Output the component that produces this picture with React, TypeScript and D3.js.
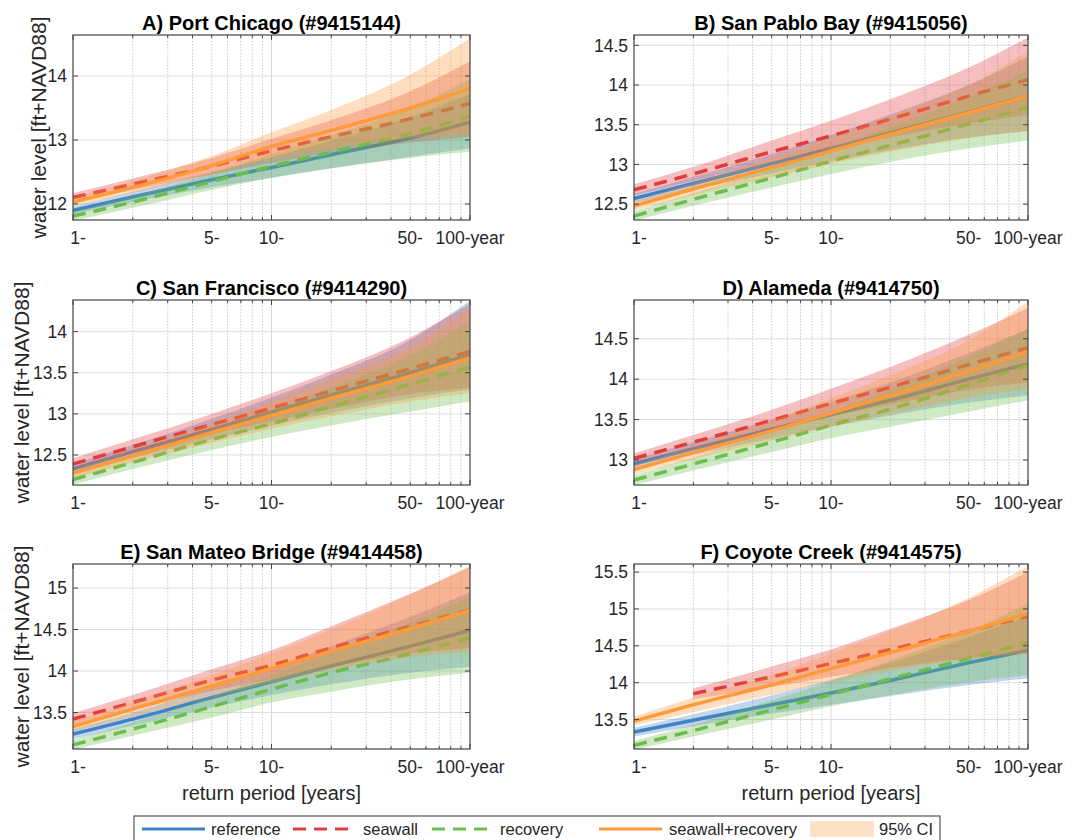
import React from "react";
import * as d3 from "d3";

// return periods (years) at which every curve is read
const periods = [1, 2, 5, 10, 20, 50, 100];

const titles = [
  "A) Port Chicago (#9415144)",
  "B) San Pablo Bay (#9415056)",
  "C) San Francisco (#9414290)",
  "D) Alameda (#9414750)",
  "E) San Mateo Bridge (#9414458)",
  "F) Coyote Creek (#9414575)",
];

const yDomains = [
  [11.75, 14.64],
  [12.3, 14.63],
  [12.135, 14.385],
  [12.69, 14.98],
  [13.06, 15.29],
  [13.1, 15.61],
];

const yTickValues = [
  [12, 13, 14],
  [12.5, 13, 13.5, 14, 14.5],
  [12.5, 13, 13.5, 14],
  [13, 13.5, 14, 14.5],
  [13.5, 14, 14.5, 15],
  [13.5, 14, 14.5, 15, 15.5],
];

const xTickValues = [1, 5, 10, 50, 100];
const xTickLabels = ["1-", "5-", "10-", "50-", "100-year"];

// reference
const referenceMid = [
  [11.9, 12.11, 12.38, 12.57, 12.77, 13.03, 13.28],
  [12.57, 12.76, 13.01, 13.2, 13.4, 13.66, 13.86],
  [12.33, 12.54, 12.81, 13.02, 13.23, 13.5, 13.72],
  [12.95, 13.14, 13.38, 13.56, 13.74, 14.0, 14.19],
  [13.24, 13.42, 13.68, 13.87, 14.06, 14.3, 14.49],
  [13.33, 13.49, 13.7, 13.86, 14.03, 14.27, 14.44],
];
const referenceLo = [
  [11.84, 12.03, 12.26, 12.41, 12.56, 12.74, 12.87],
  [12.51, 12.68, 12.89, 13.04, 13.18, 13.34, 13.42],
  [12.27, 12.46, 12.69, 12.86, 13.01, 13.19, 13.3],
  [12.89, 13.06, 13.27, 13.41, 13.55, 13.71, 13.8],
  [13.18, 13.34, 13.56, 13.71, 13.84, 13.98, 14.05],
  [13.27, 13.41, 13.58, 13.7, 13.82, 13.97, 14.06],
];
const referenceHi = [
  [11.96, 12.19, 12.5, 12.73, 12.99, 13.36, 13.72],
  [12.63, 12.84, 13.13, 13.37, 13.63, 14.0, 14.36],
  [12.39, 12.62, 12.94, 13.2, 13.48, 13.9, 14.38],
  [13.01, 13.22, 13.5, 13.72, 13.96, 14.32, 14.62],
  [13.3, 13.5, 13.8, 14.04, 14.3, 14.65, 14.95],
  [13.39, 13.57, 13.83, 14.04, 14.27, 14.62, 14.9],
];

// seawall
const seawallMid = [
  [12.1, 12.31, 12.59, 12.83, 13.05, 13.33, 13.57],
  [12.68, 12.88, 13.16, 13.36, 13.57, 13.86, 14.07],
  [12.39, 12.6, 12.87, 13.07, 13.28, 13.55, 13.76],
  [13.02, 13.22, 13.49, 13.7, 13.9, 14.18, 14.39],
  [13.42, 13.62, 13.89, 14.07, 14.28, 14.54, 14.74],
  [null, 13.85, 14.08, 14.26, 14.45, 14.7, 14.9],
];
const seawallLo = [
  [12.03, 12.22, 12.46, 12.64, 12.8, 12.96, 13.05],
  [12.61, 12.79, 13.03, 13.19, 13.34, 13.52, 13.62],
  [12.33, 12.52, 12.75, 12.91, 13.06, 13.24, 13.32],
  [12.96, 13.14, 13.37, 13.54, 13.69, 13.87, 13.96],
  [13.35, 13.53, 13.76, 13.9, 14.05, 14.21, 14.28],
  [null, 13.78, 13.94, 14.08, 14.2, 14.33, 14.4],
];
const seawallHi = [
  [12.17, 12.4, 12.72, 13.02, 13.31, 13.76, 14.23],
  [12.75, 12.97, 13.3, 13.55, 13.82, 14.22, 14.6],
  [12.46, 12.69, 13.0, 13.25, 13.52, 13.93, 14.34],
  [13.08, 13.31, 13.62, 13.88, 14.15, 14.55, 14.88],
  [13.49, 13.71, 14.02, 14.25, 14.54, 14.93, 15.25],
  [null, 13.92, 14.22, 14.45, 14.73, 15.12, 15.5],
];

// recovery
const recoveryMid = [
  [11.81, 12.03, 12.35, 12.59, 12.81, 13.1, 13.37],
  [12.35, 12.56, 12.83, 13.04, 13.24, 13.51, 13.72],
  [12.2, 12.41, 12.69, 12.88, 13.09, 13.36, 13.57],
  [12.75, 12.95, 13.22, 13.43, 13.63, 13.93, 14.17],
  [13.11, 13.3, 13.57, 13.78, 13.98, 14.21, 14.4],
  [13.15, 13.35, 13.63, 13.84, 14.05, 14.33, 14.54],
];
const recoveryLo = [
  [11.74, 11.94, 12.22, 12.41, 12.56, 12.72, 12.82],
  [12.29, 12.48, 12.71, 12.88, 13.03, 13.2, 13.3],
  [12.14, 12.33, 12.56, 12.72, 12.86, 13.03, 13.15],
  [12.69, 12.87, 13.1, 13.27, 13.41, 13.6, 13.74],
  [13.05, 13.22, 13.44, 13.62, 13.75, 13.9, 13.98],
  [13.09, 13.27, 13.5, 13.68, 13.83, 14.01, 14.1],
];
const recoveryHi = [
  [11.88, 12.12, 12.48, 12.78, 13.07, 13.5, 13.95],
  [12.41, 12.64, 12.95, 13.21, 13.47, 13.85, 14.18],
  [12.26, 12.49, 12.81, 13.05, 13.32, 13.72, 14.12],
  [12.81, 13.03, 13.35, 13.6, 13.87, 14.28, 14.62],
  [13.17, 13.38, 13.69, 13.95, 14.22, 14.58, 14.9],
  [13.21, 13.43, 13.76, 14.02, 14.3, 14.7, 15.08],
];

// seawall+recovery
const combinedMid = [
  [12.03, 12.26, 12.6, 12.9, 13.15, 13.5, 13.8],
  [12.48, 12.69, 12.96, 13.17, 13.38, 13.65, 13.86],
  [12.28, 12.49, 12.77, 12.98, 13.19, 13.46, 13.68],
  [12.88, 13.09, 13.36, 13.58, 13.8, 14.1, 14.34],
  [13.33, 13.54, 13.82, 14.03, 14.24, 14.51, 14.73],
  [13.48, 13.7, 13.97, 14.19, 14.41, 14.7, 14.94],
];
const combinedLo = [
  [11.96, 12.17, 12.47, 12.71, 12.87, 13.03, 13.1],
  [12.42, 12.61, 12.84, 13.01, 13.16, 13.33, 13.42],
  [12.22, 12.41, 12.65, 12.82, 12.97, 13.15, 13.25],
  [12.82, 13.01, 13.24, 13.41, 13.57, 13.77, 13.88],
  [13.27, 13.45, 13.69, 13.86, 14.01, 14.17, 14.23],
  [13.42, 13.6, 13.84, 14.01, 14.16, 14.32, 14.4],
];
const combinedHi = [
  [12.1, 12.36, 12.75, 13.12, 13.47, 14.02, 14.59],
  [12.54, 12.77, 13.08, 13.34, 13.61, 14.0, 14.42],
  [12.34, 12.57, 12.89, 13.15, 13.42, 13.82, 14.28],
  [12.94, 13.17, 13.49, 13.76, 14.05, 14.48, 14.96],
  [13.39, 13.63, 13.95, 14.21, 14.5, 14.92, 15.27],
  [13.54, 13.8, 14.1, 14.4, 14.7, 15.15, 15.58],
];

const series = [
  { name: "reference", color: "#3f83c6", dash: null, mid: referenceMid, lo: referenceLo, hi: referenceHi },
  { name: "seawall", color: "#e13c3c", dash: "13,8", mid: seawallMid, lo: seawallLo, hi: seawallHi },
  { name: "recovery", color: "#6cbd50", dash: "13,8", mid: recoveryMid, lo: recoveryLo, hi: recoveryHi },
  { name: "seawall+recovery", color: "#fd9a3a", dash: null, mid: combinedMid, lo: combinedLo, hi: combinedHi },
];

const FONT = "'Liberation Sans', Arial, Helvetica, sans-serif";
const colLeft = [73, 634];
const colRight = [470, 1028];
const rowTop = [35, 300, 564];
const yLabelX = [46, 28.5, 28.5];
const boxH = 185;

function Panel({ idx }: { idx: number }) {
  const col = idx % 2;
  const row = Math.floor(idx / 2);
  const left = colLeft[col];
  const right = colRight[col];
  const top = rowTop[row];
  const bottom = top + boxH;

  const x = d3.scaleLog().domain([1, 100]).range([left, right]);
  const y = d3.scaleLinear().domain(yDomains[idx]).range([bottom, top]);
  const allX = x.ticks();
  const majorX = [1, 10, 100];
  const clipId = "clip" + idx;
  const index = periods.map((_, i) => i);

  const area = (lo: (number | null)[], hi: (number | null)[]) =>
    d3
      .area<number>()
      .defined((i) => lo[i] != null && hi[i] != null)
      .x((i) => x(periods[i]))
      .y0((i) => y(lo[i] as number))
      .y1((i) => y(hi[i] as number))
      .curve(d3.curveMonotoneX)(index) || "";

  const line = (v: (number | null)[]) =>
    d3
      .line<number>()
      .defined((i) => v[i] != null)
      .x((i) => x(periods[i]))
      .y((i) => y(v[i] as number))
      .curve(d3.curveMonotoneX)(index) || "";

  return (
    <g>
      <defs>
        <clipPath id={clipId}>
          <rect x={left} y={top} width={right - left} height={boxH} />
        </clipPath>
      </defs>
      <rect x={left} y={top} width={right - left} height={boxH} fill="#fff" />
      {/* grid */}
      {yTickValues[idx].map((t) => (
        <line key={"gy" + t} x1={left} x2={right} y1={y(t)} y2={y(t)} stroke="#dedede" strokeWidth={1} />
      ))}
      {allX
        .filter((t) => t > 1 && t < 100)
        .map((t) => (
          <line
            key={"gx" + t}
            x1={x(t)}
            x2={x(t)}
            y1={top}
            y2={bottom}
            stroke={majorX.includes(t) ? "#d8d8d8" : "#cccccc"}
            strokeWidth={1}
            strokeDasharray={majorX.includes(t) ? undefined : "1.5,1.5"}
          />
        ))}
      {/* bands and lines */}
      <g clipPath={`url(#${clipId})`}>
        {series.map((s) => (
          <g key={s.name}>
            <path d={area(s.lo[idx], s.hi[idx])} fill={s.color} fillOpacity={0.33} stroke="none" />
            <path
              d={line(s.mid[idx])}
              fill="none"
              stroke={s.color}
              strokeWidth={3.5}
              strokeDasharray={s.dash || undefined}
            />
          </g>
        ))}
      </g>
      {/* box */}
      <rect x={left} y={top} width={right - left} height={boxH} fill="none" stroke="#444" strokeWidth={1.2} />
      {/* ticks */}
      {allX.map((t) => {
        const len = majorX.includes(t) ? 5 : 3;
        return (
          <g key={"tx" + t}>
            <line x1={x(t)} x2={x(t)} y1={bottom} y2={bottom - len} stroke="#444" />
            <line x1={x(t)} x2={x(t)} y1={top} y2={top + len} stroke="#444" />
          </g>
        );
      })}
      {yTickValues[idx].map((t) => (
        <g key={"ty" + t}>
          <line x1={left} x2={left + 5} y1={y(t)} y2={y(t)} stroke="#444" />
          <line x1={right} x2={right - 5} y1={y(t)} y2={y(t)} stroke="#444" />
          <text x={left - 6} y={y(t)} dy="0.36em" textAnchor="end" fontSize={17.5} fill="#262626">
            {String(t)}
          </text>
        </g>
      ))}
      {xTickValues.map((t, i) => (
        <text
          key={"lx" + t}
          x={x(t)}
          dx={i === 0 ? 5 : 0}
          y={bottom + 24}
          textAnchor="middle"
          fontSize={17.5}
          fill="#262626"
        >
          {xTickLabels[i]}
        </text>
      ))}
      <text x={(left + right) / 2} y={top - 5.5} textAnchor="middle" fontSize={20} fontWeight="bold" fill="#000">
        {titles[idx]}
      </text>
      {col === 0 && (
        <text
          transform={`translate(${yLabelX[row]},${(top + bottom) / 2}) rotate(-90)`}
          textAnchor="middle"
          fontSize={21}
          fill="#262626"
        >
          water level [ft+NAVD88]
        </text>
      )}
      {row === 2 && (
        <text x={(left + right) / 2} y={bottom + 51} textAnchor="middle" fontSize={20} fill="#262626">
          return period [years]
        </text>
      )}
    </g>
  );
}

function Legend() {
  const ly = 829;
  const items = [
    { s: series[0], x0: 142, tx: 211 },
    { s: series[1], x0: 293, tx: 363 },
    { s: series[2], x0: 432, tx: 500 },
    { s: series[3], x0: 599, tx: 669 },
  ];
  return (
    <g fontSize={16.5} fill="#262626">
      <rect x={134} y={816} width={806} height={30} fill="#fff" stroke="#555" strokeWidth={1.2} />
      {items.map(({ s, x0, tx }) => (
        <g key={s.name}>
          <line
            x1={x0}
            x2={x0 + 63}
            y1={ly}
            y2={ly}
            stroke={s.color}
            strokeWidth={3}
            strokeDasharray={s.dash || undefined}
          />
          <text x={tx} y={ly + 6}>
            {s.name}
          </text>
        </g>
      ))}
      <rect x={810} y={821} width={64} height={16} fill={series[3].color} fillOpacity={0.3} />
      <text x={879} y={ly + 6}>
        95% CI
      </text>
    </g>
  );
}

export default function App() {
  return (
    <svg
      width={1088}
      height={840}
      style={{ position: "absolute", left: 0, top: 0, background: "#fff" }}
      fontFamily={FONT}
    >
      {titles.map((_, i) => (
        <Panel key={i} idx={i} />
      ))}
      <Legend />
    </svg>
  );
}
